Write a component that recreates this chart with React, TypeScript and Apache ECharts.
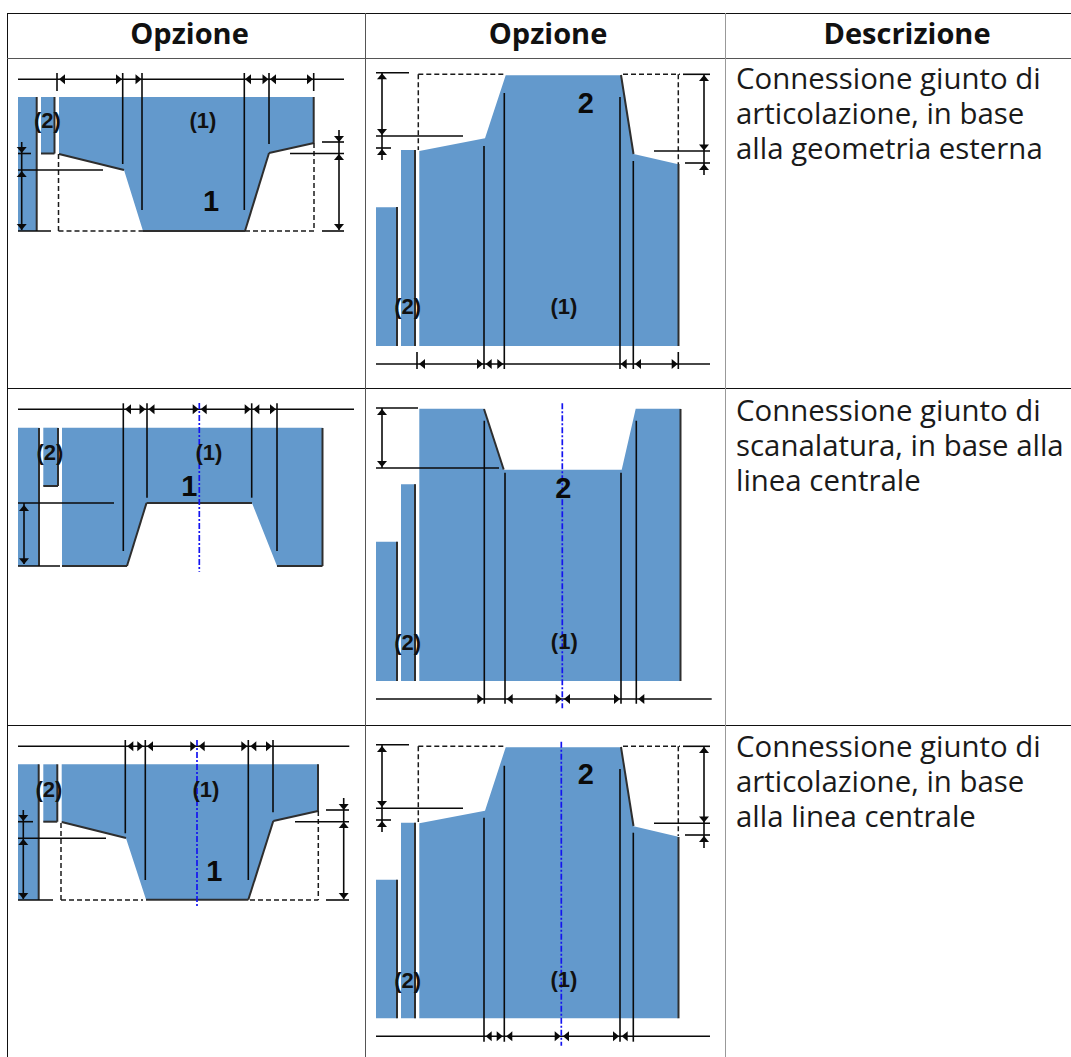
import React, { useEffect, useRef } from "react";
import * as echarts from "echarts";

const WIDTH = 1071;
const HEIGHT = 1057;
const BLUE = "#6399cc";

// ---- table ----
const tableRules: number[][] = [
  [7, 13.5, 1071, 13.5, 1, 0],
  [7.5, 13, 7.5, 1057, 1, 0],
  [7, 58.5, 1071, 58.5, 1.2, 1],
  [7, 388.5, 1071, 388.5, 1.2, 0],
  [7, 725.5, 1071, 725.5, 1.2, 0],
  [365.5, 13, 365.5, 1057, 1, 1],
  [725.5, 13, 725.5, 1057, 1, 2],
];
const headerLabels: [string, number, number][] = [
  ["Opzione", 189.5, 32.8],
  ["Opzione", 548, 32.8],
  ["Descrizione", 907, 32.8],
];
const descriptionLines: [string, number][] = [
  ["Connessione giunto di", 77.5],
  ["articolazione, in base", 112.8],
  ["alla geometria esterna", 147.5],
  ["Connessione giunto di", 409.5],
  ["scanalatura, in base alla", 445],
  ["linea centrale", 479.5],
  ["Connessione giunto di", 746.3],
  ["articolazione, in base", 781.3],
  ["alla linea centrale", 815.8],
];

// ---- filled regions: [x, y] outlines ----
const fills: number[][][] = [
  // top-left
  [[18, 97], [37, 97], [37, 231], [18, 231]],
  [[41, 97], [55, 97], [55, 153.5], [41, 153.5]],
  [[59, 97], [314, 97], [314, 143], [269, 153], [245, 231], [143, 231], [124, 170], [59, 154]],
  // top-middle
  [[376, 207.3], [397.5, 207.3], [397.5, 346], [376, 346]],
  [[401, 150], [416, 150], [416, 346], [401, 346]],
  [[419.3, 151], [485, 138.3], [505.7, 75.3], [621, 75.3], [633.7, 154], [678.3, 164.3], [678.3, 346], [419.3, 346]],
  // mid-left
  [[18, 427.7], [39.5, 427.7], [39.5, 566], [18, 566]],
  [[43.3, 427.7], [58.3, 427.7], [58.3, 486], [43.3, 486]],
  [[62, 427.7], [322.7, 427.7], [322.7, 566], [277, 566], [252, 503], [147, 503], [127, 566], [62, 566]],
  // mid-middle
  [[376, 541.7], [397.5, 541.7], [397.5, 681], [376, 681]],
  [[401, 484.3], [416, 484.3], [416, 681], [401, 681]],
  [[419.3, 408.7], [484, 408.7], [503.7, 469.7], [621.7, 469.7], [635.7, 408.7], [680.7, 408.7], [680.7, 681], [419.3, 681]],
  // bottom-left
  [[18, 764.3], [39, 764.3], [39, 900], [18, 900]],
  [[43.3, 764.3], [57.5, 764.3], [57.5, 821.7], [43.3, 821.7]],
  [[61.7, 764.3], [318.3, 764.3], [318.3, 810.7], [273.3, 821], [248.3, 899.5], [146, 899.5], [126, 838.3], [61.7, 822.3]],
  // bottom-middle
  [[376, 879.7], [397.5, 879.7], [397.5, 1018.3], [376, 1018.3]],
  [[401, 822.7], [416, 822.7], [416, 1018.3], [401, 1018.3]],
  [[419.3, 823.3], [485, 810.7], [505.7, 747.3], [621, 747.3], [633.7, 826.3], [678.3, 836.7], [678.3, 1018.3], [419.3, 1018.3]],
];

// ---- solid strokes: x1, y1, x2, y2 ----
const outlineStrokes: number[][] = [
  [36.7, 97, 36.7, 231], [41, 153.5, 54.5, 153.5], [54.5, 97, 54.5, 153.5], [59, 154, 124, 170],
  [313.7, 97, 313.7, 143], [314, 143, 269, 153], [269, 153, 245, 231], [143, 231, 245, 231],
  [397, 207, 397, 346], [415, 150, 415, 346], [621, 75, 633.5, 154], [678.5, 164, 678.5, 346],
  [39, 428, 39, 566], [58, 428, 58, 486], [43.3, 486, 58, 486], [322.5, 428, 322.5, 566],
  [277, 566, 322.5, 566], [62, 566, 127, 566], [127, 566, 146.5, 503], [146.5, 503, 252, 503],
  [397, 541.7, 397, 681], [415, 484.3, 415, 681], [484, 409, 503.7, 469.5], [680.5, 409, 680.5, 681],
  [38.7, 764.3, 38.7, 900], [57.3, 764.3, 57.3, 821.7], [43.3, 821.7, 57.3, 821.7], [61.7, 822, 126, 838],
  [318, 764.3, 318, 811], [318, 811, 273.3, 821], [273.3, 821, 248.3, 899.8], [146, 899.8, 248.3, 899.8],
  [397, 879.7, 397, 1018.3], [415, 822.7, 415, 1018.3], [621, 747, 633.5, 826], [678.5, 837, 678.5, 1018.3],
];
const dimensionStrokes: number[][] = [
  // top-left
  [18, 79.3, 344, 79.3], [57, 73, 57, 91], [313.7, 73, 313.7, 91],
  [122.7, 73, 122.7, 164], [142, 73, 142, 210], [244.3, 73, 244.3, 210], [269, 73, 269, 144],
  [18, 231, 51, 231], [18, 153.5, 31, 153.5], [18, 170, 103, 170], [21.7, 142, 21.7, 230],
  [322, 142, 344, 142], [290, 153.5, 344, 153.5], [322, 231, 344, 231], [339, 130, 339, 230],
  // top-middle
  [376, 364, 710, 364], [417, 352, 417, 369], [678.3, 352, 678.3, 369],
  [484, 146, 484, 369], [504.3, 93, 504.3, 369], [620, 97, 620, 369], [633.3, 161, 633.3, 369],
  [376, 72.7, 409, 72.7], [376, 136, 463, 136], [376, 148, 391, 148], [382, 73, 382, 160],
  [683, 74.3, 710, 74.3], [654, 151, 710, 151], [685, 163, 710, 163], [704, 74, 704, 175],
  // mid-left
  [18, 409.3, 354, 409.3], [123.3, 403.3, 123.3, 551], [147, 403.3, 147, 497.7], [251.7, 403.3, 251.7, 497.7], [277, 403.3, 277, 551],
  [18, 566, 60, 566], [18, 503, 114, 503], [24, 503, 24, 564],
  // mid-middle
  [376, 699, 711.7, 699], [484.3, 420.7, 484.3, 703.7], [505, 472.7, 505, 703.7], [621, 472.7, 621, 703.7], [636.3, 420.7, 636.3, 703.7],
  [376, 408, 418, 408], [376, 468, 499, 468], [382, 408, 382, 468],
  // bottom-left
  [18, 746.3, 349.3, 746.3], [125.3, 740, 125.3, 833.3], [145.3, 740, 145.3, 880], [248.3, 740, 248.3, 880], [273, 740, 273, 812.3],
  [18, 900, 53, 900], [18, 821.7, 33, 821.7], [18, 838.3, 106, 838.3], [23.3, 810, 23.3, 899],
  [326, 810, 349, 810], [295, 821.7, 349, 821.7], [326, 900, 349, 900], [343.7, 798, 343.7, 899],
  // bottom-middle
  [376, 1036.3, 710, 1036.3], [484, 817.7, 484, 1041.7], [504.3, 765.7, 504.3, 1041.7], [620, 769, 620, 1041.7], [633.3, 832.7, 633.3, 1041.7],
  [376, 744.7, 409, 744.7], [376, 808.3, 463, 808.3], [376, 820, 391, 820], [382, 745, 382, 832],
  [683, 746.3, 710, 746.3], [654, 823.3, 710, 823.3], [685, 835, 710, 835], [704, 746, 704, 848],
];
const dashedStrokes: number[][] = [
  [58.5, 154, 58.5, 231], [58.5, 231, 143, 231], [245, 231, 314, 231], [314, 143, 314, 231],
  [418.3, 74.3, 505, 74.3], [623, 74.3, 680, 74.3], [418.3, 74.3, 418.3, 150], [678.3, 74.3, 678.3, 164],
  [61, 823, 61, 900], [61, 900, 143, 900], [250, 900, 318.3, 900], [318.3, 811, 318.3, 900],
  [418.3, 746.3, 505, 746.3], [623, 746.3, 680, 746.3], [418.3, 746.3, 418.3, 822], [678.3, 746.3, 678.3, 836],
];
const centerStrokes: number[][] = [
  [199.3, 403, 199.3, 571.7],
  [562.3, 403.3, 562.3, 708.3],
  [197, 740, 197, 906.7],
  [561.3, 741.7, 561.3, 1045.7],
];

// ---- arrow tips: x, y, direction ("L" points left, "R" right, "U" up, "D" down) ----
const arrowTips: [number, number, string][] = [
  [59, 79.3, "L"], [122, 79.3, "R"], [141.5, 79.3, "R"], [245, 79.3, "L"], [268.5, 79.3, "R"], [270, 79.3, "L"], [313, 79.3, "R"],
  [21.7, 153, "D"], [21.7, 171, "U"], [21.7, 230, "D"], [339, 142, "D"], [339, 154, "U"], [339, 230, "D"],
  [419, 364, "L"], [483, 364, "R"], [485.7, 364, "L"], [503.3, 364, "R"], [620.7, 364, "L"], [635, 364, "L"], [677.7, 364, "R"],
  [382, 73.3, "U"], [382, 135, "D"], [382, 149, "U"], [704, 75, "U"], [704, 150.5, "D"], [704, 164, "U"],
  [125, 409.3, "L"], [145.5, 409.3, "R"], [148.5, 409.3, "L"], [198.7, 409.3, "R"], [200.7, 409.3, "L"], [250.7, 409.3, "R"], [253.3, 409.3, "L"], [276, 409.3, "R"],
  [24, 505, "U"], [24, 564.3, "D"],
  [483.3, 699, "R"], [506.7, 699, "L"], [561.7, 699, "R"], [564, 699, "L"], [620, 699, "R"], [638.3, 699, "L"],
  [382, 409, "U"], [382, 467, "D"],
  [127.3, 746.3, "L"], [143.3, 746.3, "R"], [147, 746.3, "L"], [196.3, 746.3, "R"], [198.7, 746.3, "L"], [247.3, 746.3, "R"], [250.3, 746.3, "L"], [272, 746.3, "R"],
  [23.3, 821, "D"], [23.3, 839, "U"], [23.3, 899, "D"], [343.7, 810, "D"], [343.7, 822, "U"], [343.7, 899, "D"],
  [485.7, 1036.3, "L"], [502.7, 1036.3, "R"], [506.3, 1036.3, "L"], [560.7, 1036.3, "R"], [563, 1036.3, "L"], [619, 1036.3, "R"], [621.7, 1036.3, "L"],
  [382, 746, "U"], [382, 807, "D"], [382, 821, "U"], [704, 747, "U"], [704, 822.5, "D"], [704, 836, "U"],
];

// ---- diagram annotations ----
const partLabels: [string, number, number][] = [
  ["(2)", 47.5, 120], ["(1)", 203, 120],
  ["(2)", 407.7, 306.3], ["(1)", 564, 306.3],
  ["(2)", 50, 452.7], ["(1)", 209, 452.7],
  ["(2)", 407.7, 642], ["(1)", 564.3, 641.3],
  ["(2)", 49, 789], ["(1)", 206, 789],
  ["(2)", 407.7, 980], ["(1)", 564, 979],
];
const memberLabels: [string, number, number][] = [
  ["1", 211, 201], ["2", 585.7, 102.5],
  ["1", 189.3, 485.7], ["2", 563.3, 488],
  ["1", 214.3, 870.7], ["2", 585.7, 774],
];

const indexed = (list: unknown[]) => list.map((_, i) => [i, 0]);

function strokeSeries(list: number[][], style: any, z: number) {
  return {
    type: "custom",
    coordinateSystem: "cartesian2d",
    silent: true,
    clip: false,
    z,
    data: indexed(list),
    renderItem: (p: any, api: any) => {
      const [x1, y1, x2, y2] = list[p.dataIndex];
      const a = api.coord([x1, y1]);
      const b = api.coord([x2, y2]);
      return { type: "line", shape: { x1: a[0], y1: a[1], x2: b[0], y2: b[1] }, style: { fill: null, ...style } };
    },
  };
}

function textSeries(list: [string, number, number][], style: any, z: number) {
  return {
    type: "custom",
    coordinateSystem: "cartesian2d",
    silent: true,
    clip: false,
    z,
    data: indexed(list),
    renderItem: (p: any, api: any) => {
      const [text, x, y] = list[p.dataIndex];
      const c = api.coord([x, y]);
      return { type: "text", style: { text, x: c[0], y: c[1], align: "center", verticalAlign: "middle", ...style } };
    },
  };
}

const ruleColors = ["#111111", "#555555", "#999999"];

function buildOption(): any {
  return {
    animation: false,
    backgroundColor: "#ffffff",
    grid: { left: 0, right: 0, top: 0, bottom: 0, containLabel: false },
    xAxis: { type: "value", min: 0, max: WIDTH, show: false },
    yAxis: { type: "value", min: 0, max: HEIGHT, inverse: true, show: false },
    series: [
      {
        type: "custom",
        coordinateSystem: "cartesian2d",
        silent: true,
        clip: false,
        z: 2,
        data: indexed(fills),
        renderItem: (p: any, api: any) => ({
          type: "polygon",
          shape: { points: fills[p.dataIndex].map((pt) => api.coord(pt)) },
          style: { fill: BLUE },
        }),
      },
      {
        type: "custom",
        coordinateSystem: "cartesian2d",
        silent: true,
        clip: false,
        z: 1,
        data: indexed(tableRules),
        renderItem: (p: any, api: any) => {
          const [x1, y1, x2, y2, w, c] = tableRules[p.dataIndex];
          const a = api.coord([x1, y1]);
          const b = api.coord([x2, y2]);
          return {
            type: "line",
            shape: { x1: a[0], y1: a[1], x2: b[0], y2: b[1] },
            style: { stroke: ruleColors[c], lineWidth: w },
          };
        },
      },
      strokeSeries(outlineStrokes, { stroke: "#2e2e2e", lineWidth: 2 }, 3),
      strokeSeries(dashedStrokes, { stroke: "#1a1a1a", lineWidth: 1.5, lineDash: [5, 3] }, 3),
      strokeSeries(dimensionStrokes, { stroke: "#0a0a0a", lineWidth: 1.6 }, 4),
      strokeSeries(centerStrokes, { stroke: "#1414f0", lineWidth: 1.7, lineDash: [6, 2, 2, 2] }, 5),
      {
        type: "custom",
        coordinateSystem: "cartesian2d",
        silent: true,
        clip: false,
        z: 6,
        data: indexed(arrowTips),
        renderItem: (p: any, api: any) => {
          const [x, y, d] = arrowTips[p.dataIndex];
          const l = 6;
          const h = 5;
          const raw =
            d === "L" ? [[x, y], [x + l, y - h], [x + l, y + h]]
            : d === "R" ? [[x, y], [x - l, y - h], [x - l, y + h]]
            : d === "U" ? [[x, y], [x - h, y + l], [x + h, y + l]]
            : [[x, y], [x - h, y - l], [x + h, y - l]];
          return {
            type: "polygon",
            shape: { points: raw.map((pt) => api.coord(pt)) },
            style: { fill: "#0a0a0a" },
          };
        },
      },
      textSeries(partLabels, { fill: "#111111", fontSize: 22, fontWeight: "bold", fontFamily: "Liberation Sans" }, 7),
      textSeries(memberLabels, { fill: "#0a0a0a", fontSize: 29, fontWeight: "bold", fontFamily: "Liberation Sans" }, 7),
      textSeries(headerLabels, { fill: "#111111", fontSize: 29, fontWeight: "bold", fontFamily: "Open Sans" }, 7),
      {
        type: "custom",
        coordinateSystem: "cartesian2d",
        silent: true,
        clip: false,
        z: 7,
        data: indexed(descriptionLines),
        renderItem: (p: any, api: any) => {
          const [text, y] = descriptionLines[p.dataIndex];
          const c = api.coord([736, y]);
          return {
            type: "text",
            style: {
              text, x: c[0], y: c[1], align: "left", verticalAlign: "middle",
              fill: "#1a1a1a", fontSize: 29.4, fontFamily: "Open Sans",
            },
          };
        },
      },
    ],
  };
}

export default function App() {
  const ref = useRef<HTMLDivElement>(null);
  useEffect(() => {
    const chart = echarts.init(ref.current!, undefined, { renderer: "svg" });
    chart.setOption(buildOption());
    return () => chart.dispose();
  }, []);
  return (
    <div
      ref={ref}
      style={{ position: "absolute", left: 0, top: 0, width: WIDTH, height: HEIGHT }}
    />
  );
}
